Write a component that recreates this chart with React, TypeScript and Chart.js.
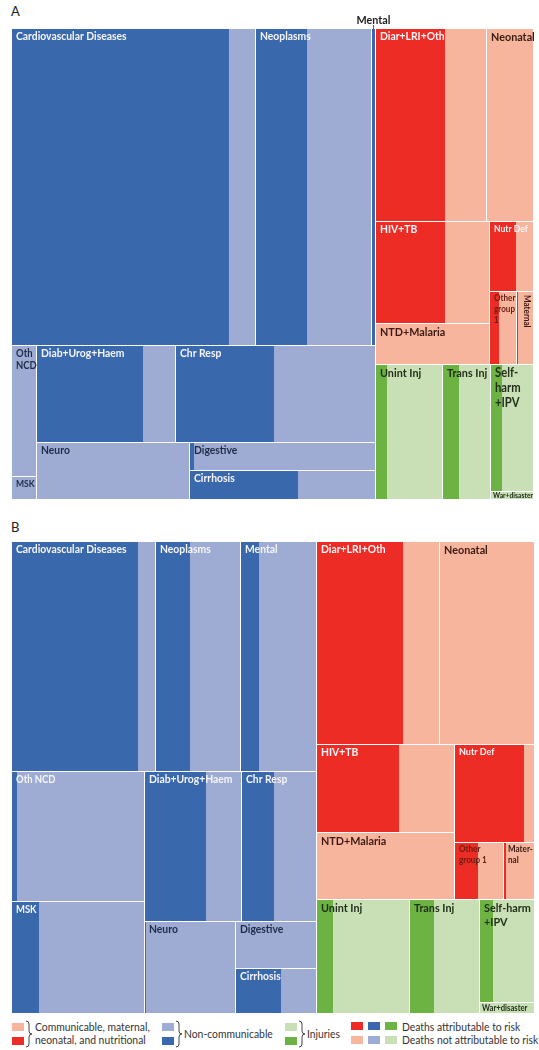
import React, { useEffect, useRef } from 'react';
import { Chart, registerables } from 'chart.js';

Chart.register(...registerables);

// ---------- DATA ----------
const causes = [
  'Cardiovascular Diseases', 'Neoplasms', 'Mental', 'Oth NCD', 'MSK',
  'Diab+Urog+Haem', 'Chr Resp', 'Neuro', 'Digestive', 'Cirrhosis',
  'Diar+LRI+Oth', 'Neonatal', 'HIV+TB', 'NTD+Malaria', 'Nutr Def',
  'Other group 1', 'Maternal', 'Unint Inj', 'Trans Inj', 'Self-harm +IPV', 'War+disaster',
];
const causeGroups = [
  'ncd', 'ncd', 'ncd', 'ncd', 'ncd', 'ncd', 'ncd', 'ncd', 'ncd', 'ncd',
  'cmnn', 'cmnn', 'cmnn', 'cmnn', 'cmnn', 'cmnn', 'cmnn',
  'inj', 'inj', 'inj', 'inj',
];

// Panel A: share of all deaths (%)
const deathsShareA = [31.44, 14.95, 0.52, 1.34, 0.23, 5.46, 7.86, 3.57, 2.13, 2.21, 8.72, 3.69, 4.73, 1.90, 1.25, 0.80, 0.51, 3.69, 2.64, 2.23, 0.14];
// Panel A: fraction attributable to risk
const attribShareA = [0.89, 0.44, 1.0, 0, 0, 0.76, 0.49, 0, 0.02, 0.58, 0.62, 0, 0.61, 0, 0.60, 0.32, 0.05, 0.17, 0.34, 0.26, 0];

// Panel B: share of all DALYs (%)
const dalysShareB = [13.47, 7.95, 7.02, 6.98, 6.06, 5.84, 4.56, 3.38, 1.51, 1.47, 10.2, 7.8, 4.90, 3.78, 3.13, 1.12, 0.72, 4.33, 3.21, 2.31, 0.25];
// Panel B: fraction attributable to risk
const attribShareB = [0.87, 0.40, 0.23, 0.04, 0.20, 0.63, 0.43, 0.01, 0, 0.56, 0.70, 0, 0.59, 0, 0.86, 0.47, 0.06, 0.17, 0.34, 0.25, 0];

// Treemap nesting (h = side by side, v = stacked); leaves are cause indices
type TNode = number | ['h' | 'v', TNode[]];
const treeLayout: TNode = ['h', [
  ['v', [
    ['h', [0, 1, 2]],
    ['h', [
      ['v', [3, 4]],
      ['v', [
        ['h', [5, 6]],
        ['h', [7, ['v', [8, 9]]]],
      ]],
    ]],
  ]],
  ['v', [
    ['v', [
      ['h', [10, 11]],
      ['h', [
        ['v', [12, 13]],
        ['v', [14, ['h', [15, 16]]]],
      ]],
    ]],
    ['h', [17, 18, ['v', [19, 20]]]],
  ]],
]];

// ---------- STYLES ----------
const palette: Record<string, { dark: string; light: string }> = {
  ncd: { dark: '#3a68ad', light: '#9eabd2' },
  cmnn: { dark: '#ec2c25', light: '#f8b59d' },
  inj: { dark: '#6cb344', light: '#c9dfb5' },
};
const WHITE = '#f6f6fa';
const NAVY = '#1e2b4a';
const BROWN = '#3a1a12';
const REDBROWN = '#6a1d12';
const DKGREEN = '#22301a';

type LabelSpec = {
  lines?: string[]; size?: number; color: string; mode?: 'above' | 'rotate' | 'vcenter';
};

const labelsA: Record<number, LabelSpec> = {
  0: { color: WHITE }, 1: { color: WHITE }, 2: { color: '#222', mode: 'above', size: 12 },
  3: { color: NAVY, lines: ['Oth', 'NCD'], size: 10.5 }, 4: { color: NAVY, size: 9.5 },
  5: { color: WHITE }, 6: { color: WHITE }, 7: { color: NAVY }, 8: { color: NAVY }, 9: { color: WHITE },
  10: { color: WHITE }, 11: { color: BROWN, size: 12 }, 12: { color: WHITE }, 13: { color: BROWN, size: 12 },
  14: { color: WHITE, size: 9.5 }, 15: { color: REDBROWN, lines: ['Other', 'group', '1'], size: 9 },
  16: { color: BROWN, mode: 'rotate', size: 9 },
  17: { color: DKGREEN, size: 12 }, 18: { color: DKGREEN, size: 12 },
  19: { color: DKGREEN, lines: ['Self-', 'harm', '+IPV'], size: 12.5 },
  20: { color: DKGREEN, size: 7.5, mode: 'vcenter' },
};
const labelsB: Record<number, LabelSpec> = {
  0: { color: WHITE }, 1: { color: WHITE }, 2: { color: WHITE },
  3: { color: WHITE, size: 10.5 }, 4: { color: WHITE, size: 10.5 },
  5: { color: WHITE }, 6: { color: WHITE }, 7: { color: NAVY }, 8: { color: NAVY }, 9: { color: WHITE },
  10: { color: WHITE }, 11: { color: BROWN, size: 12 }, 12: { color: WHITE }, 13: { color: BROWN, size: 12 },
  14: { color: WHITE, size: 10 }, 15: { color: REDBROWN, lines: ['Other', 'group 1'], size: 9 },
  16: { color: BROWN, lines: ['Mater-', 'nal'], size: 9 },
  17: { color: DKGREEN, size: 12 }, 18: { color: DKGREEN, size: 12 },
  19: { color: DKGREEN, lines: ['Self-harm', '+IPV'], size: 12 },
  20: { color: DKGREEN, size: 8.5, mode: 'vcenter' },
};

const FONT = 'Lato, "Open Sans", "Noto Sans", sans-serif';
const SX = 0.9;
const BASE_SIZE = 11.5;

// ---------- LAYOUT ----------
function nodeSum(n: TNode, vals: number[]): number {
  return typeof n === 'number' ? vals[n] : n[1].reduce((s, c) => s + nodeSum(c, vals), 0);
}
type Cell = { i: number; x0: number; y0: number; x1: number; y1: number };
function sliceLayout(n: TNode, vals: number[], x0: number, y0: number, x1: number, y1: number, out: Cell[]) {
  if (typeof n === 'number') { out.push({ i: n, x0, y0, x1, y1 }); return; }
  const [dir, kids] = n;
  const total = nodeSum(n, vals);
  let acc = 0;
  for (const k of kids) {
    const v = nodeSum(k, vals);
    if (dir === 'h') {
      sliceLayout(k, vals, x0 + (x1 - x0) * acc / total, y0, x0 + (x1 - x0) * (acc + v) / total, y1, out);
    } else {
      sliceLayout(k, vals, x0, y0 + (y1 - y0) * acc / total, x1, y0 + (y1 - y0) * (acc + v) / total, out);
    }
    acc += v;
  }
}

function drawText(ctx: CanvasRenderingContext2D, text: string, x: number, y: number, size: number, color: string) {
  ctx.save();
  ctx.font = `700 ${size}px ${FONT}`;
  ctx.fillStyle = color;
  ctx.textBaseline = 'alphabetic';
  ctx.translate(x, y);
  ctx.scale(SX, 1);
  ctx.fillText(text, 0, 0);
  ctx.restore();
}

function makeTreemapPlugin(vals: number[], attrib: number[], labels: Record<number, LabelSpec>) {
  return {
    id: 'treemapCells',
    afterDraw(chart: any) {
      const ctx: CanvasRenderingContext2D = chart.ctx;
      const xs = chart.scales.x;
      const ys = chart.scales.y;
      const cells: Cell[] = [];
      sliceLayout(treeLayout, vals, 0, 0, 100, 100, cells);
      ctx.save();
      for (const c of cells) {
        const px0 = Math.round(xs.getPixelForValue(c.x0));
        const px1 = Math.round(xs.getPixelForValue(c.x1));
        const py0 = Math.round(ys.getPixelForValue(c.y0));
        const py1 = Math.round(ys.getPixelForValue(c.y1));
        const pxd = Math.round(xs.getPixelForValue(c.x0 + (c.x1 - c.x0) * attrib[c.i]));
        const w = px1 - px0 - 1;
        const h = py1 - py0 - 1;
        const col = palette[causeGroups[c.i]];
        const dw = Math.min(w, Math.max(0, pxd - px0 - (attrib[c.i] >= 1 ? 1 : 0)));
        ctx.fillStyle = col.light;
        ctx.fillRect(px0, py0, w, h);
        if (dw > 0) {
          ctx.fillStyle = col.dark;
          ctx.fillRect(px0, py0, Math.max(1, dw), h);
        }
        // labels
        const spec = labels[c.i];
        if (!spec) continue;
        const size = spec.size ?? BASE_SIZE;
        const lines = spec.lines ?? [causes[c.i]];
        const cap = size * 0.72;
        const lh = size * 1.18;
        if (spec.mode === 'above') {
          ctx.save();
          ctx.font = `700 ${size}px ${FONT}`;
          const tw = ctx.measureText(lines[0]).width * SX;
          const cx = px0 + w / 2;
          drawText(ctx, lines[0], cx - tw / 2, py0 - 5, size, spec.color);
          ctx.strokeStyle = col.dark;
          ctx.lineWidth = 1;
          ctx.beginPath();
          ctx.moveTo(Math.floor(cx) + 0.5, py0 - 4);
          ctx.lineTo(Math.floor(cx) + 0.5, py0);
          ctx.stroke();
          ctx.restore();
        } else if (spec.mode === 'rotate') {
          ctx.save();
          ctx.translate(px0 + w - 3 - cap, py0 + 3);
          ctx.rotate(Math.PI / 2);
          drawText(ctx, lines[0], 0, 0, size, spec.color);
          ctx.restore();
        } else if (spec.mode === 'vcenter') {
          drawText(ctx, lines[0], px0 + 2, py0 + h / 2 + cap / 2, size, spec.color);
        } else {
          lines.forEach((ln, k) => {
            drawText(ctx, ln, px0 + 4, py0 + 3 + cap + k * lh, size, spec.color);
          });
        }
      }
      ctx.restore();
    },
  };
}

function TreemapPanel(props: {
  vals: number[]; attrib: number[]; labels: Record<number, LabelSpec>;
  top: number; height: number; padding: { left: number; right: number; top: number; bottom: number };
}) {
  const ref = useRef<HTMLCanvasElement>(null);
  useEffect(() => {
    const chart = new Chart(ref.current as HTMLCanvasElement, {
      type: 'scatter',
      data: { datasets: [{ data: [] }] },
      options: {
        animation: false,
        responsive: false,
        devicePixelRatio: 1,
        layout: { padding: props.padding },
        scales: {
          x: { type: 'linear', min: 0, max: 100, display: false },
          y: { type: 'linear', min: 0, max: 100, reverse: true, display: false },
        },
        plugins: { legend: { display: false }, tooltip: { enabled: false } },
      },
      plugins: [makeTreemapPlugin(props.vals, props.attrib, props.labels)],
    } as any);
    return () => chart.destroy();
  }, []);
  return (
    <canvas
      ref={ref}
      width={539}
      height={props.height}
      style={{ position: 'absolute', left: 0, top: props.top, width: 539, height: props.height }}
    />
  );
}

function Brace(props: { left: number; top: number }) {
  return (
    <svg style={{ position: 'absolute', left: props.left, top: props.top }} width={8} height={28}>
      <path d="M1,1 Q4,1 4,4 L4,11 Q4,14 7,14 Q4,14 4,17 L4,24 Q4,27 1,27" fill="none" stroke="#444" strokeWidth={1} />
    </svg>
  );
}

const legendText: React.CSSProperties = {
  position: 'absolute', fontFamily: FONT, fontSize: 11.5, color: '#333', whiteSpace: 'nowrap',
  transform: 'scaleX(0.9)', transformOrigin: 'left center', lineHeight: '13px',
};

function Sw(props: { left: number; top: number; color: string; w?: number }) {
  return <div style={{ position: 'absolute', left: props.left, top: props.top, width: props.w ?? 12, height: 8, background: props.color }} />;
}

export default function App() {
  return (
    <div style={{ position: 'absolute', left: 0, top: 0, width: 539, height: 1050, background: '#fff', overflow: 'hidden' }}>
      <div style={{ position: 'absolute', left: 11, top: 3, fontFamily: FONT, fontSize: 13, color: '#222' }}>A</div>
      <div style={{ position: 'absolute', left: 11, top: 519, fontFamily: FONT, fontSize: 13, color: '#222' }}>B</div>
      <TreemapPanel vals={deathsShareA} attrib={attribShareA} labels={labelsA}
        top={0} height={510} padding={{ left: 12, right: 5, top: 29, bottom: 10 }} />
      <TreemapPanel vals={dalysShareB} attrib={attribShareB} labels={labelsB}
        top={510} height={505} padding={{ left: 12, right: 4, top: 32, bottom: 1 }} />
      {/* legend */}
      <Sw left={12} top={1023} color={palette.cmnn.light} />
      <Sw left={12} top={1037} color={palette.cmnn.dark} />
      <Brace left={25} top={1020} />
      <div style={{ ...legendText, left: 35, top: 1020 }}>Communicable, maternal,</div>
      <div style={{ ...legendText, left: 35, top: 1033 }}>neonatal, and nutritional</div>
      <Sw left={162} top={1023} color={palette.ncd.light} />
      <Sw left={162} top={1037} color={palette.ncd.dark} />
      <Brace left={175} top={1020} />
      <div style={{ ...legendText, left: 184, top: 1027 }}>Non-communicable</div>
      <Sw left={285} top={1023} color={palette.inj.light} />
      <Sw left={285} top={1037} color={palette.inj.dark} />
      <Brace left={298} top={1020} />
      <div style={{ ...legendText, left: 307, top: 1027 }}>Injuries</div>
      <Sw left={351} top={1022} color={palette.cmnn.dark} />
      <Sw left={368} top={1022} color={palette.ncd.dark} />
      <Sw left={385} top={1022} color={palette.inj.dark} />
      <Sw left={351} top={1036} color={palette.cmnn.light} />
      <Sw left={368} top={1036} color={palette.ncd.light} />
      <Sw left={385} top={1036} color={palette.inj.light} />
      <div style={{ ...legendText, left: 402, top: 1020 }}>Deaths attributable to risk</div>
      <div style={{ ...legendText, left: 402, top: 1033 }}>Deaths not attributable to risk</div>
    </div>
  );
}
